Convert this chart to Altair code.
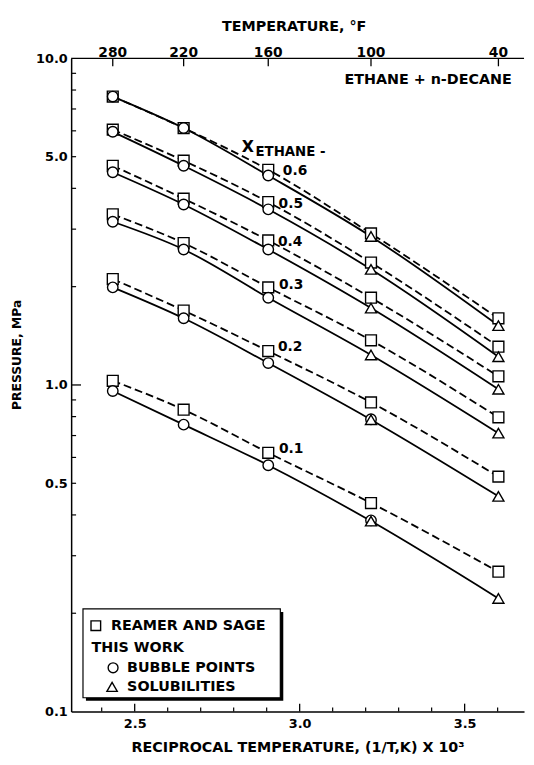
import altair as alt
import pandas as pd

# ---------------- data ----------------
temps_F = [280, 220, 160, 100, 40]
compositions = ["0.1", "0.2", "0.3", "0.4", "0.5", "0.6"]

# Reamer and Sage (squares), pressure in MPa at temps_F
rs_01 = [1.03, 0.84, 0.62, 0.435, 0.268]
rs_02 = [2.11, 1.69, 1.27, 0.884, 0.524]
rs_03 = [3.33, 2.72, 1.99, 1.37, 0.796]
rs_04 = [4.69, 3.72, 2.77, 1.85, 1.063]
rs_05 = [6.05, 4.86, 3.63, 2.37, 1.31]
rs_06 = [7.64, 6.12, 4.56, 2.91, 1.60]

# This work: bubble points (circles) at 280, 220, 160 F
bp_01 = [0.958, 0.756, 0.568]
bp_02 = [1.99, 1.60, 1.167]
bp_03 = [3.16, 2.60, 1.85]
bp_04 = [4.48, 3.57, 2.60]
bp_05 = [5.96, 4.69, 3.45]
bp_06 = [7.64, 6.12, 4.38]
# extra bubble points at 100 F
bp100_comps = ["0.1", "0.2"]
bp100_vals = [0.385, 0.785]

# This work: solubilities (triangles) at 100, 40 F
sol_01 = [0.383, 0.222]
sol_02 = [0.783, 0.456]
sol_03 = [1.236, 0.712]
sol_04 = [1.72, 0.97]
sol_05 = [2.26, 1.22]
sol_06 = [2.85, 1.52]

# composition labels
label_text = ["0.6", "0.5", "0.4", "0.3", "0.2", "0.1"]
label_x = [2.949, 2.936, 2.934, 2.937, 2.934, 2.937]
label_p = [4.52, 3.58, 2.74, 2.02, 1.31, 0.636]

# axis ticks
x_label_vals = [2.5, 3.0, 3.5]
x_minor_ticks = [2.4, 2.6, 2.7, 2.8, 2.9, 3.1, 3.2, 3.3, 3.4, 3.6]
y_label_vals = [0.1, 0.5, 1.0, 5.0, 10.0]
y_major_ticks = [1.0]
y_minor_ticks = [0.2, 0.3, 0.4, 0.5, 0.6, 0.7, 0.8, 0.9, 2, 3, 4, 5, 6, 7, 8, 9]
top_labels = [str(f) for f in temps_F]

# ---------------- build tables ----------------
inv_T = [1000.0 / ((f - 32) * 5.0 / 9.0 + 273.15) for f in temps_F]

rs_all = [rs_01, rs_02, rs_03, rs_04, rs_05, rs_06]
bp_all = [bp_01, bp_02, bp_03, bp_04, bp_05, bp_06]
sol_all = [sol_01, sol_02, sol_03, sol_04, sol_05, sol_06]

sq_rows, circ_rows, tri_rows, tw_rows = [], [], [], []
for c, rs, bp, sol in zip(compositions, rs_all, bp_all, sol_all):
    for xv, p in zip(inv_T, rs):
        sq_rows.append({"comp": c, "x": xv, "p": p})
    for xv, p in zip(inv_T[:3], bp):
        circ_rows.append({"comp": c, "x": xv, "p": p})
        tw_rows.append({"comp": c, "x": xv, "p": p})
    for xv, p in zip(inv_T[3:], sol):
        tri_rows.append({"comp": c, "x": xv, "p": p})
        tw_rows.append({"comp": c, "x": xv, "p": p})
for c, p in zip(bp100_comps, bp100_vals):
    circ_rows.append({"comp": c, "x": inv_T[3], "p": p})

sq_df = pd.DataFrame(sq_rows)
circ_df = pd.DataFrame(circ_rows)
tri_df = pd.DataFrame(tri_rows)
tw_df = pd.DataFrame(tw_rows)
lab_df = pd.DataFrame({"x": label_x, "p": label_p, "t": label_text})
top_df = pd.DataFrame({"x": inv_T, "t": top_labels})
xmaj_df = pd.DataFrame({"x": x_label_vals})
xmin_df = pd.DataFrame({"x": x_minor_ticks})
ymaj_df = pd.DataFrame({"p": y_major_ticks})
ymin_df = pd.DataFrame({"p": y_minor_ticks})
one = pd.DataFrame({"a": [0]})

# ---------------- layout ----------------
W, H = 459, 662
FONT = "DejaVu Sans"
x_scale = alt.Scale(domain=[2.3074, 3.68], nice=False, zero=False)
y_scale = alt.Scale(type="log", domain=[0.1, 10], nice=False)

bottom_axis = alt.Axis(
    values=x_label_vals, format=".1f", ticks=False, grid=False,
    labelFontSize=13, labelPadding=6, labelBaseline="top",
    title="RECIPROCAL TEMPERATURE, (1/T,K) X 10³", titleFontSize=14.5,
    titleY=36, titleBaseline="middle",
)
left_axis = alt.Axis(
    values=y_label_vals, format=".1f", ticks=False, grid=False,
    labelFontSize=13, labelPadding=4,
    title="PRESSURE, MPa", titleFontSize=12.5,
    titleX=-55, titleY=300, titleBaseline="middle", titleAngle=270,
)

X = alt.X("x:Q", scale=x_scale, axis=bottom_axis)
Y = alt.Y("p:Q", scale=y_scale, axis=left_axis)

line_tw = alt.Chart(tw_df).mark_line(
    color="black", strokeWidth=1.8, interpolate="monotone"
).encode(x=X, y=Y, detail="comp:N", order="x:Q")

line_rs = alt.Chart(sq_df).mark_line(
    color="black", strokeWidth=1.8, strokeDash=[8, 4], interpolate="monotone"
).encode(x=X, y=Y, detail="comp:N", order="x:Q")

sym = dict(filled=True, fill="white", stroke="black", strokeWidth=1.4, opacity=1)
squares = alt.Chart(sq_df).mark_point(shape="square", size=121, **sym).encode(x=X, y=Y)
circles = alt.Chart(circ_df).mark_point(shape="circle", size=113, **sym).encode(x=X, y=Y)
triangles = alt.Chart(tri_df).mark_point(shape="triangle-up", size=125, **sym).encode(x=X, y=Y)

# top (temperature) axis, drawn by hand
top_line = alt.Chart(one).mark_rule(color="black", strokeWidth=1.5).encode(
    x=alt.value(0), x2=alt.value(W), y=alt.value(0)
)
top_ticks = alt.Chart(top_df).mark_rule(color="black", strokeWidth=1.3).encode(
    x=X, y=alt.value(0), y2=alt.value(8)
)
top_text = alt.Chart(top_df).mark_text(
    baseline="alphabetic", align="center", fontSize=14, fontWeight="bold", font=FONT, color="black"
).encode(x=X, y=alt.value(-1.5), text="t:N")
top_title = alt.Chart(one).mark_text(
    text="TEMPERATURE, °F", baseline="middle", align="center", fontSize=14.5,
    fontWeight="bold", font=FONT, color="black"
).encode(x=alt.value(226), y=alt.value(-32))

xmaj = alt.Chart(xmaj_df).mark_rule(color="black", strokeWidth=1.3).encode(
    x=X, y=alt.value(H), y2=alt.value(H - 8)
)
xmin = alt.Chart(xmin_df).mark_rule(color="black", strokeWidth=1.2).encode(
    x=X, y=alt.value(H), y2=alt.value(H - 4)
)
ymaj = alt.Chart(ymaj_df).mark_rule(color="black", strokeWidth=1.3).encode(
    y=Y, x=alt.value(0), x2=alt.value(10)
)
ymin = alt.Chart(ymin_df).mark_rule(color="black", strokeWidth=1.2).encode(
    y=Y, x=alt.value(0), x2=alt.value(5)
)

comp_labels = alt.Chart(lab_df).mark_text(
    align="left", baseline="middle", fontSize=14, fontWeight="bold", font=FONT, color="black"
).encode(x=X, y=Y, text="t:N")

xeth_df = pd.DataFrame({"x": [2.8242], "p": [5.34]})
xeth_sub_df = pd.DataFrame({"x": [2.866], "p": [5.17]})
x_letter = alt.Chart(xeth_df).mark_text(
    text="X", align="left", baseline="middle", fontSize=16, fontWeight="bold", font=FONT, color="black"
).encode(x=X, y=Y)
x_sub = alt.Chart(xeth_sub_df).mark_text(
    text="ETHANE -", align="left", baseline="middle", fontSize=13.5, fontWeight="bold", font=FONT, color="black"
).encode(x=X, y=Y)

system_label = alt.Chart(one).mark_text(
    text="ETHANE + n-DECANE", align="right", baseline="middle", fontSize=14.5,
    fontWeight="bold", font=FONT, color="black"
).encode(x=alt.value(446.5), y=alt.value(21.5))

# legend box with shadow
lx0, lx1, ly0, ly1 = 12, 212, 558, 648
shadow = alt.Chart(one).mark_rect(color="black").encode(
    x=alt.value(lx0 + 3), x2=alt.value(lx1 + 3), y=alt.value(ly0 + 3), y2=alt.value(ly1 + 3)
)
box = alt.Chart(one).mark_rect(fill="white", stroke="black", strokeWidth=1.2).encode(
    x=alt.value(lx0), x2=alt.value(lx1), y=alt.value(ly0), y2=alt.value(ly1)
)
leg_sq = alt.Chart(one).mark_point(shape="square", size=95, **sym).encode(
    x=alt.value(25), y=alt.value(575))
leg_ci = alt.Chart(one).mark_point(shape="circle", size=100, **sym).encode(
    x=alt.value(42.5), y=alt.value(617.7))
leg_tr = alt.Chart(one).mark_point(shape="triangle-up", size=110, **sym).encode(
    x=alt.value(41.5), y=alt.value(637))

def leg_text(txt, x, y):
    return alt.Chart(one).mark_text(
        text=txt, align="left", baseline="middle", fontSize=14.5, fontWeight="bold",
        font=FONT, color="black"
    ).encode(x=alt.value(x), y=alt.value(y))

leg_t1 = leg_text("REAMER AND SAGE", 40.4, 575)
leg_t2 = leg_text("THIS WORK", 20.6, 598)
leg_t3 = leg_text("BUBBLE POINTS", 56.7, 617.7)
leg_t4 = leg_text("SOLUBILITIES", 56.7, 637)

chart = alt.layer(
    line_tw, line_rs, squares, circles, triangles,
    top_line, top_ticks, top_text, top_title, xmaj, xmin, ymaj, ymin,
    comp_labels, x_letter, x_sub, system_label,
    shadow, box, leg_sq, leg_ci, leg_tr, leg_t1, leg_t2, leg_t3, leg_t4,
).properties(
    width=W, height=H,
    autosize=alt.AutoSizeParams(type="none"),
    padding={"left": 64, "top": 46, "right": 2, "bottom": 41},
    background="white",
).configure_view(stroke=None).configure_axis(
    labelFont=FONT, titleFont=FONT, labelFontWeight="bold", titleFontWeight="bold",
    labelColor="black", titleColor="black", domainColor="black", domainWidth=1.5,
    labelOverlap=False, labelFlush=False,
)

chart.save("out.html", embed_options={"renderer": "svg", "actions": False})
